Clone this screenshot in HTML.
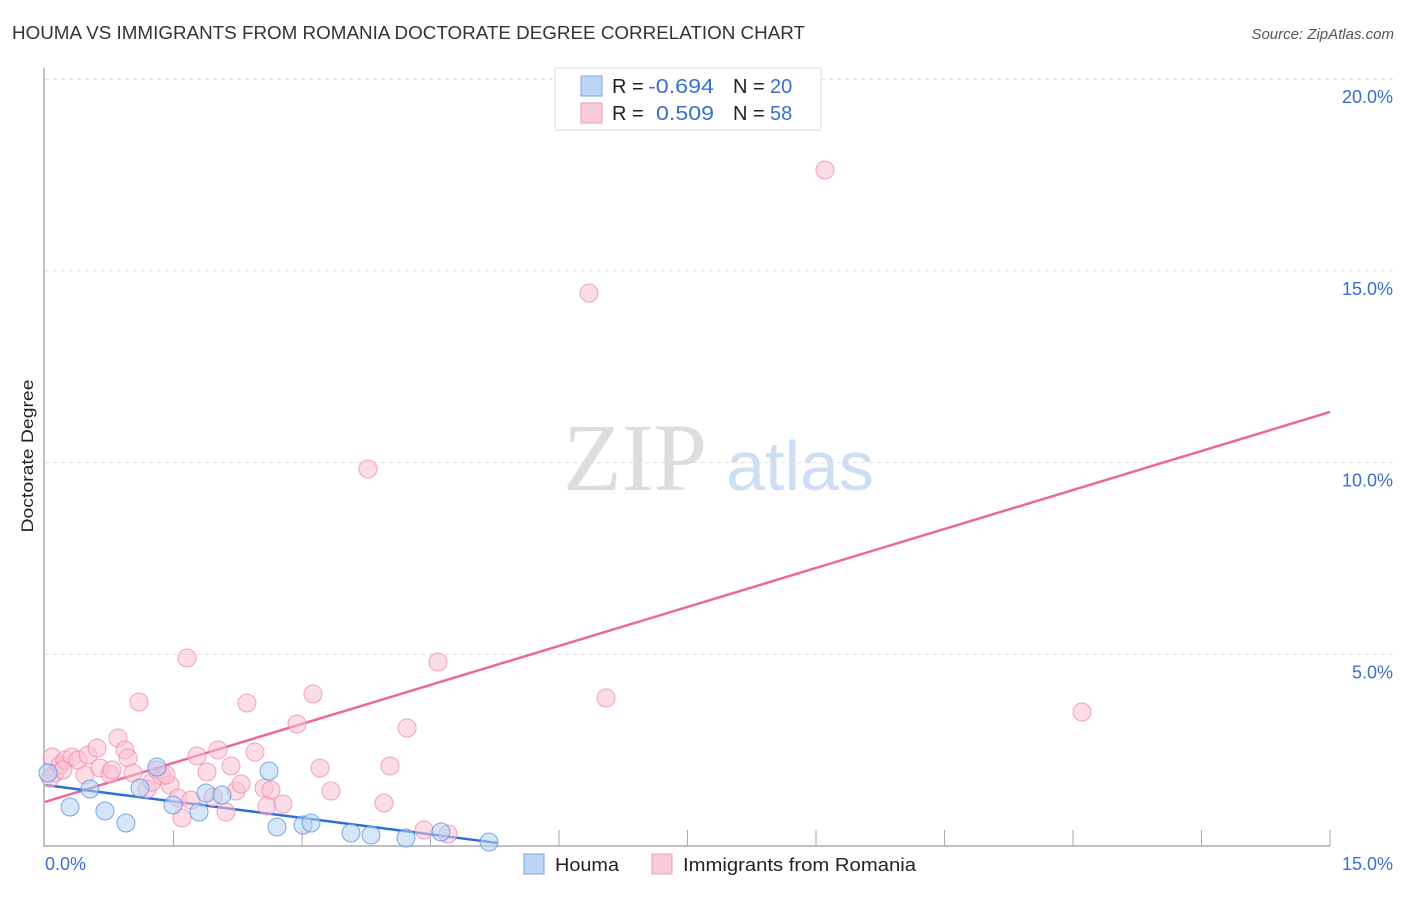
<!DOCTYPE html>
<html><head><meta charset="utf-8"><style>
body{margin:0;background:#fff;font-family:"Liberation Sans",sans-serif}
</style></head><body>
<svg id="chart" width="1406" height="892" xmlns="http://www.w3.org/2000/svg" font-family="Liberation Sans, sans-serif">
<text x="12" y="39" font-size="18" fill="#333" textLength="793" lengthAdjust="spacingAndGlyphs">HOUMA VS IMMIGRANTS FROM ROMANIA DOCTORATE DEGREE CORRELATION CHART</text>
<text x="1394" y="39" font-size="15" fill="#555" font-style="italic" text-anchor="end">Source: ZipAtlas.com</text>
<g>
<text x="635" y="490" font-size="96" font-family="Liberation Serif, serif" fill="#ddd" text-anchor="middle">ZIP</text>
<text x="800" y="490" font-size="70" fill="#cfdff3" text-anchor="middle">atlas</text>
</g>
<text transform="translate(33,456) rotate(-90)" font-size="17" fill="#222" text-anchor="middle" textLength="153" lengthAdjust="spacingAndGlyphs">Doctorate Degree</text>
<g id="grid"></g><g id="axes"></g><g id="lines"></g><g id="pts"></g>
<g font-size="20">
<rect x="555" y="68" width="266" height="62" fill="#fff" stroke="#ddd"/>
<rect x="581" y="76" width="21" height="20" fill="#bcd5f5" stroke="#7aa7e6"/>
<rect x="581" y="103" width="21" height="20" fill="#fbcadb" stroke="#f09ab8"/>
<text x="612" y="93" fill="#222">R =</text>
<text x="648" y="93" fill="#3a6fd0" textLength="66" lengthAdjust="spacingAndGlyphs">-0.694</text>
<text x="733" y="93" fill="#222">N =</text>
<text x="770" y="93" fill="#3a6fd0">20</text>
<text x="612" y="120" fill="#222">R =</text>
<text x="656" y="120" fill="#3a6fd0" textLength="58" lengthAdjust="spacingAndGlyphs">0.509</text>
<text x="733" y="120" fill="#222">N =</text>
<text x="770" y="120" fill="#3a6fd0">58</text>
</g>
<g>
<rect x="524" y="854" width="20" height="20" fill="#bcd5f5" stroke="#7aa7e6"/>
<text x="555" y="871" font-size="18" fill="#222" textLength="64" lengthAdjust="spacingAndGlyphs">Houma</text>
<rect x="652" y="854" width="20" height="20" fill="#fbcadb" stroke="#f09ab8"/>
<text x="683" y="871" font-size="18" fill="#222" textLength="233" lengthAdjust="spacingAndGlyphs">Immigrants from Romania</text>
</g>
</svg>
<script>
const yTicks=[5,10,15,20];
const yTickLabels=["5.0%","10.0%","15.0%","20.0%"];
const xTickCount=10;
const xLabels=["0.0%","15.0%"];
const houmaX=[0.035,0.292,0.525,0.70,0.945,1.109,1.307,1.494,1.798,1.879,2.066,2.615,2.708,3.012,3.105,3.572,3.805,4.214,4.622,5.183];
const houmaY=[1.904,1.017,1.487,0.913,0.60,1.513,2.06,1.069,0.887,1.382,1.33,1.956,0.496,0.548,0.60,0.339,0.287,0.209,0.365,0.104];
const romX=[0.082,0.117,0.175,0.233,0.315,0.385,0.502,0.607,0.467,0.642,0.759,0.852,0.934,0.969,1.027,1.097,1.191,1.249,1.307,1.366,1.459,1.553,1.599,1.658,1.704,1.774,1.891,1.961,2.019,2.113,2.171,2.230,2.288,2.358,2.451,2.556,2.591,2.638,2.778,2.942,3.128,3.210,3.338,3.770,3.957,4.027,4.226,4.424,4.587,4.704,6.350,6.549,9.105,12.105,0.058,0.210,0.782,1.412];
const romY=[2.321,1.904,2.113,2.243,2.321,2.243,2.373,2.556,1.852,2.034,1.878,2.817,2.504,2.295,1.904,3.756,1.487,1.669,1.982,1.826,1.591,1.252,0.730,4.903,1.20,2.347,1.930,1.278,2.504,0.887,2.087,1.434,1.617,3.730,2.452,1.513,1.043,1.461,1.095,3.182,3.964,2.034,1.434,9.833,1.122,2.087,3.078,0.417,4.799,0.313,14.423,3.860,17.631,3.495,1.774,1.982,1.982,1.852];
const houmaFit=[1.59,-0.286,0,5.28];
const romFit=[1.15,0.678,0,15];
const NS="http://www.w3.org/2000/svg";
const sx=v=>45+v/15*1285, sy=v=>846-v/5*191.7;
function mk(t,a,p){const e=document.createElementNS(NS,t);for(const k in a)e.setAttribute(k,a[k]);document.getElementById(p).appendChild(e);return e;}
yTicks.forEach((t,i)=>{
 const g=mk('line',{x1:45,x2:1393,y1:sy(t),y2:sy(t),stroke:'#ddd','stroke-dasharray':'4,4'},'grid');
 
 
 const l=mk('text',{x:1393,y:sy(t)+24,'font-size':18,fill:'#3a6fd0','text-anchor':'end'},'axes');
 l.textContent=yTickLabels[i];
 
 
});
const ax=mk('path',{d:'M44,68V846H1330',fill:'none',stroke:'#aaa','stroke-width':1.5},'axes');


for(let i=1;i<=xTickCount;i++){
 const t=mk('line',{x1:sx(i*1.5),x2:sx(i*1.5),y1:830,y2:846,stroke:'#aaa'},'axes');
 
 
}
[[45,'start'],[1393,'end']].forEach((p,i)=>{
 const l=mk('text',{x:p[0],y:870,'font-size':18,fill:'#3a6fd0','text-anchor':p[1]},'axes');
 l.textContent=xLabels[i];
 
 
});
function pts(X,Y,fill,stroke,name){X.forEach((x,i)=>{
 const c=mk('circle',{cx:sx(x),cy:sy(Y[i]),r:9,fill:fill,'fill-opacity':0.55,stroke:stroke,'stroke-opacity':0.8},'pts');
 
 
});}
pts(romX,romY,'#f9bfd2','#ee8fb0','romania-point');
pts(houmaX,houmaY,'#b5d0f3','#5e95df','houma-point');
function fit(f,col,name){
 const l=mk('line',{x1:sx(f[2]),y1:sy(f[0]+f[1]*f[2]),x2:sx(f[3]),y2:sy(f[0]+f[1]*f[3]),stroke:col,'stroke-width':2.5},'lines');
 
 
}
fit(romFit,'#e8699a','romania-trend-line');
fit(houmaFit,'#2a6fd6','houma-trend-line');
</script>
</body></html>
